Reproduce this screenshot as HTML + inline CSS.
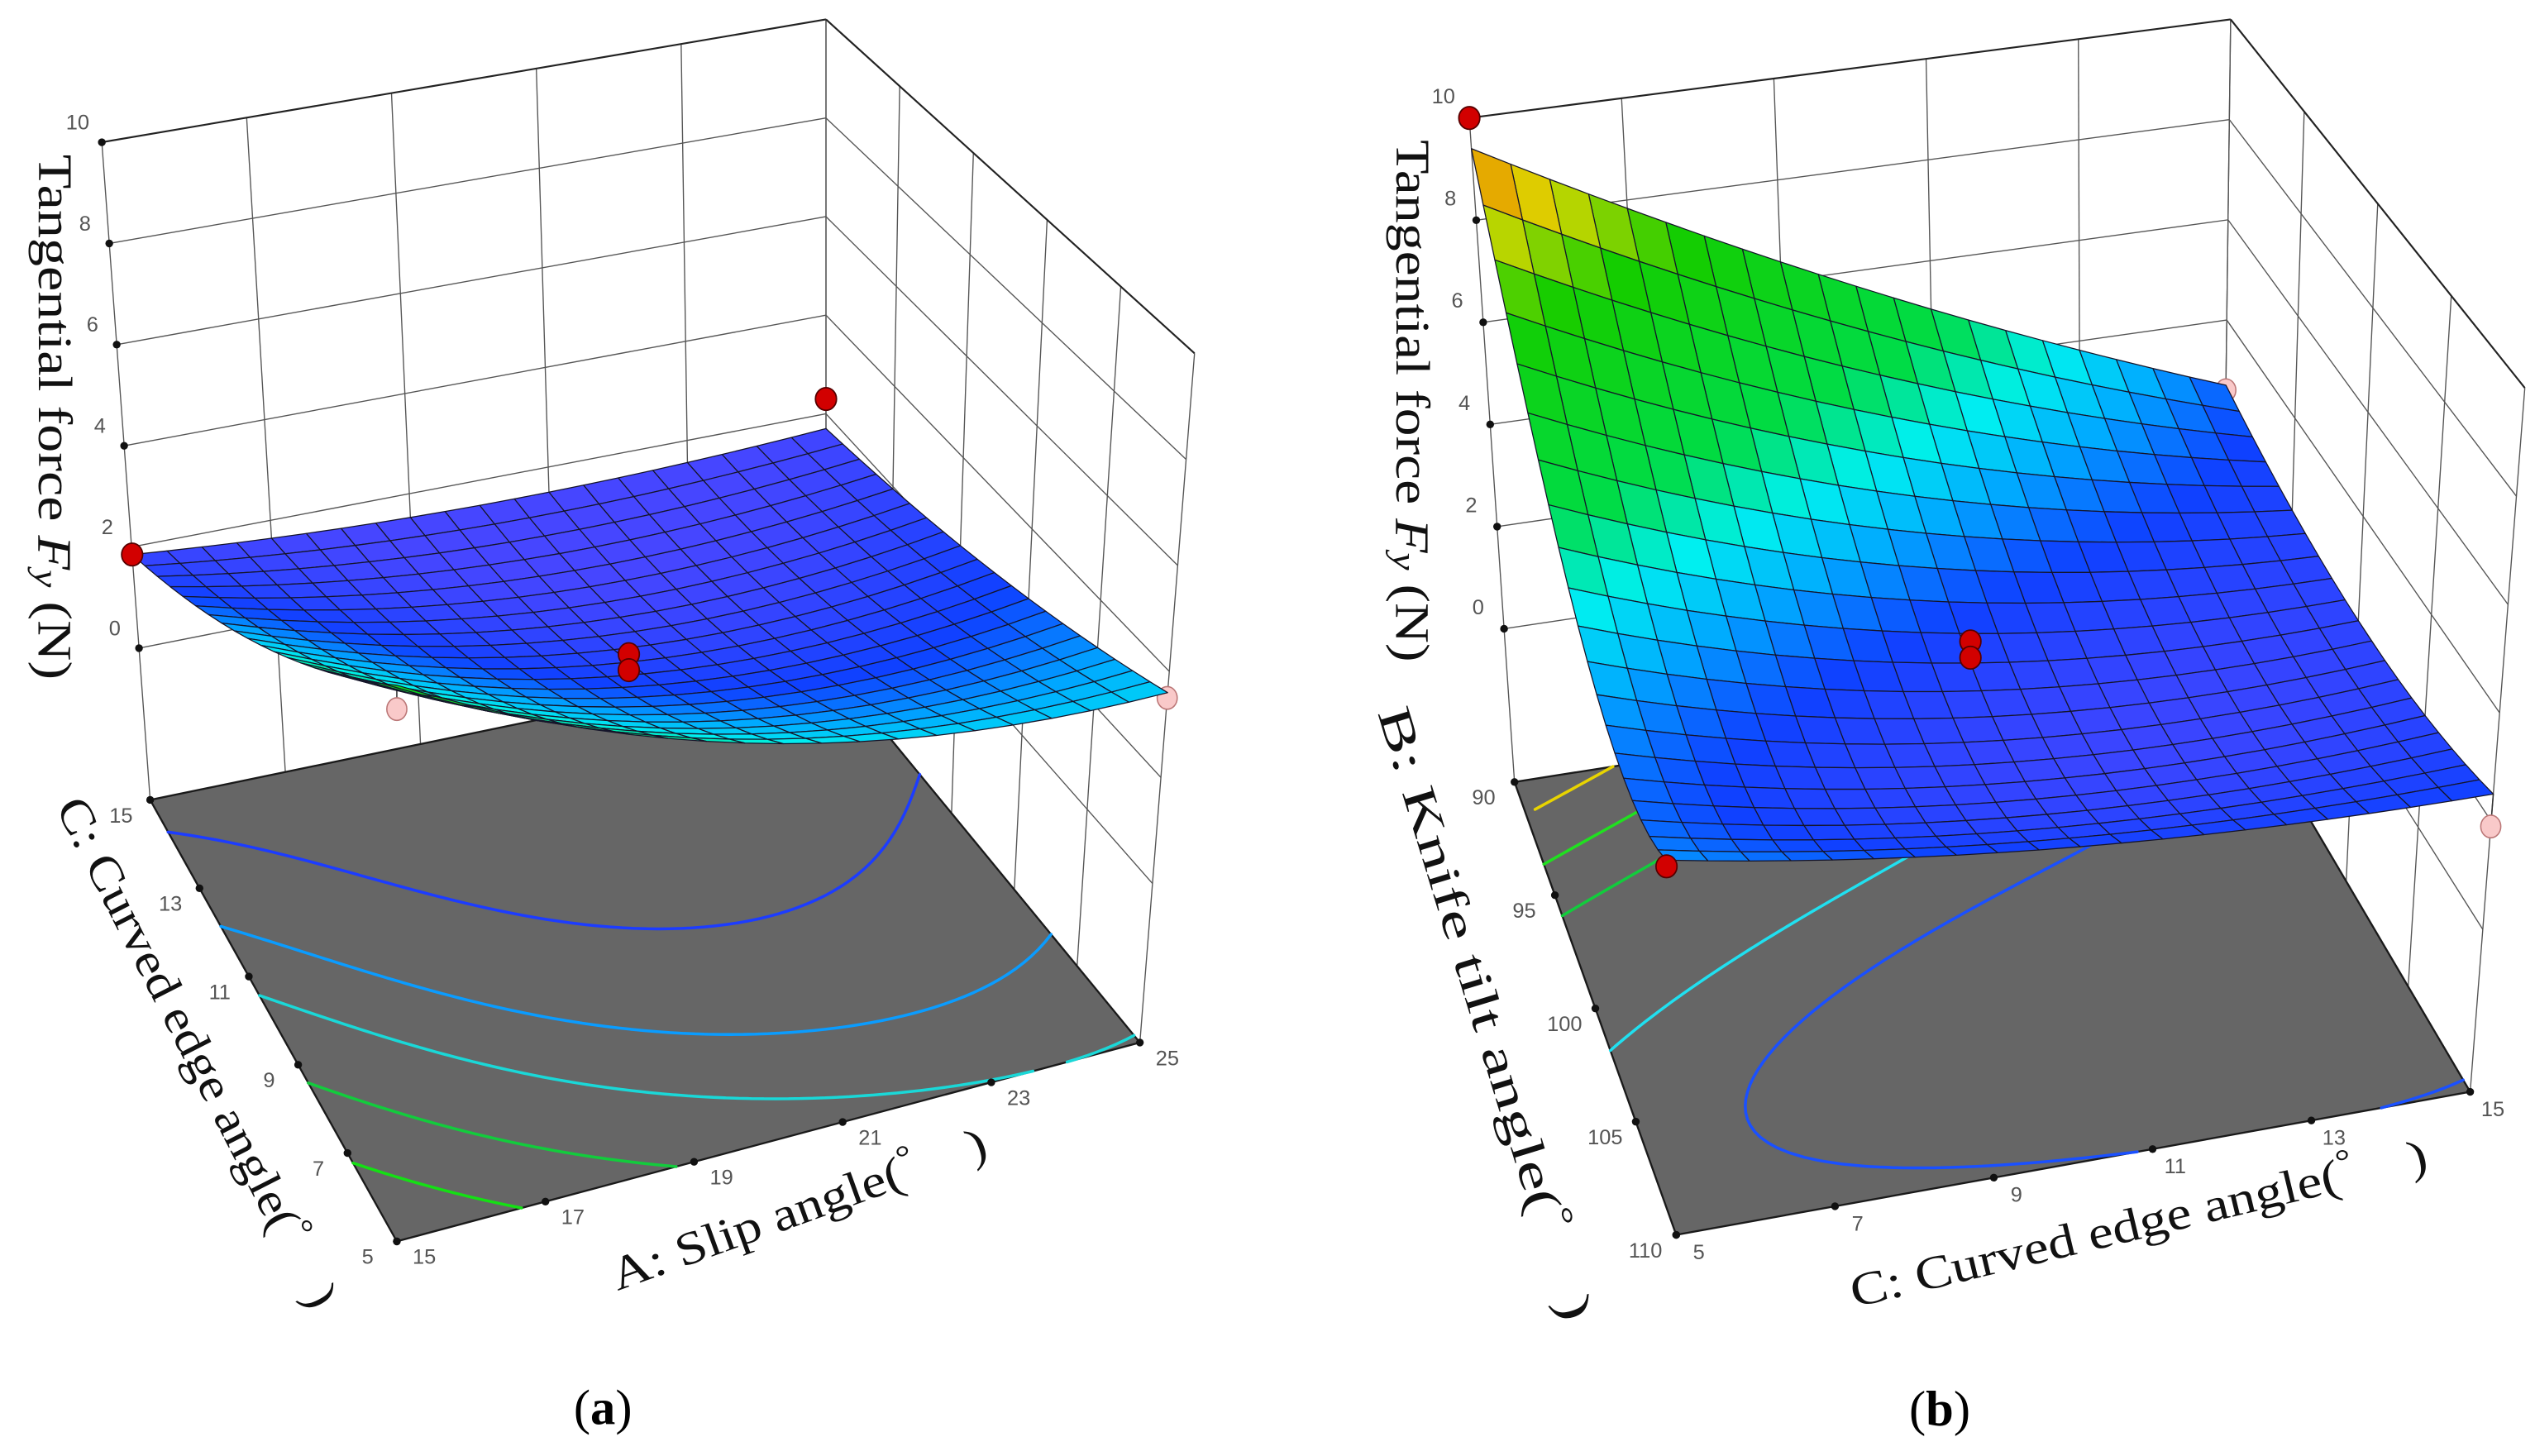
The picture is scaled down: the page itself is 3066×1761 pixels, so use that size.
<!DOCTYPE html>
<html>
<head>
<meta charset="utf-8">
<style>
  html,body{margin:0;padding:0;background:#ffffff;}
  svg{display:block;}
  text{font-family:"Liberation Sans",sans-serif;}
  .serif{font-family:"Liberation Serif",serif;}
</style>
</head>
<body>
<svg id="fig" xmlns="http://www.w3.org/2000/svg" width="3066" height="1761" viewBox="0 0 1568.3 900.8" preserveAspectRatio="none">
  <rect x="0" y="0" width="1568.3" height="900.8" fill="#ffffff"/>
  <g id="chartA"></g>
  <g id="chartB"></g>
  <text class="serif" x="373" y="881" font-size="31" text-anchor="middle" fill="#000">(<tspan font-weight="bold">a</tspan>)</text>
  <text class="serif" x="1200" y="882" font-size="31" text-anchor="middle" fill="#000">(<tspan font-weight="bold">b</tspan>)</text>
</svg>
<script>
// ---------------- DATA ----------------
// Chart (a): surface values Fy over A: Slip angle (15,20,25) x C: Curved edge angle (5,10,15)
const aSlipLevels = [15, 20, 25];
const aCurvedLevels = [5, 10, 15];
const surfA_C5  = [6.3, 4.06, 3.6];
const surfA_C10 = [3.8, 2.15, 2.45];
const surfA_C15 = [1.85, 1.5, 1.7];
const contourLevelsA = [2.1, 2.9, 3.55, 4.45, 5.35];
const contourColorsA = ["#1c3cff", "#0a9cff", "#1ad8d8", "#12cc3c", "#14e014"];
// design points (A, C, Fy, type)
const pointsA_A = [15, 25, 20, 20, 15, 25];
const pointsA_C = [15, 15, 10, 10, 5, 5];
const pointsA_F = [1.85, 2.3, 2.3, 2.0, 5.9, 3.5];
const pointsA_T = ["above", "above", "above", "above", "below", "below"];
const aZTicks = [0, 2, 4, 6, 8, 10];
const aSlipTicks = [15, 17, 19, 21, 23, 25];
const aCurvedTicks = [5, 7, 9, 11, 13, 15];

// Chart (b): surface values Fy over C: Curved edge angle (5,10,15) x B: Knife tilt angle (90,100,110)
const bCurvedLevels = [5, 10, 15];
const bTiltLevels = [90, 100, 110];
const surfB_B90  = [9.4, 5.7, 2.7];
const surfB_B100 = [3.8, 2.2, 2.0];
const surfB_B110 = [3.1, 2.48, 2.5];
const contourLevelsB = [2.44, 3.3, 5.5, 6.8, 8.3];
const contourColorsB = ["#1a50ff", "#20e0f0", "#12cc3c", "#20e020", "#e8d400"];
const pointsB_C = [5, 5, 10, 10, 15, 15];
const pointsB_B = [90, 110, 100, 100, 90, 110];
const pointsB_F = [10, 3.0, 2.6, 2.3, 2.6, 1.9];
const pointsB_T = ["above", "above", "above", "above", "below", "below"];
const bZTicks = [0, 2, 4, 6, 8, 10];
const bTiltTicks = [90, 95, 100, 105, 110];
const bCurvedTicks = [5, 7, 9, 11, 13, 15];

// colour map
const cmapVals = [1.6, 2.5, 3.2, 3.9, 4.8, 7.0, 8.3, 9.5];
const cmapCols = [[70,70,255],[15,65,255],[0,170,255],[0,240,240],[0,220,70],[20,205,0],[220,215,0],[240,110,0]];

// ---------------- HELPERS ----------------
const NS = "http://www.w3.org/2000/svg";
function mk(tag, attrs, parent){
  const el = document.createElementNS(NS, tag);
  for (const k in attrs) el.setAttribute(k, attrs[k]);
  parent.appendChild(el);
  return el;
}
function cmap(z){
  if (z <= cmapVals[0]) return "rgb(" + cmapCols[0].join(",") + ")";
  for (let i = 1; i < cmapVals.length; i++){
    if (z <= cmapVals[i]){
      const f = (z - cmapVals[i-1]) / (cmapVals[i] - cmapVals[i-1]);
      const a = cmapCols[i-1], b = cmapCols[i];
      return "rgb(" + [0,1,2].map(k => Math.round(a[k] + (b[k]-a[k])*f)).join(",") + ")";
    }
  }
  return "rgb(" + cmapCols[cmapCols.length-1].join(",") + ")";
}
function lag(t){ return [t*(t-1)/2, 1 - t*t, t*(t+1)/2]; }
function evalGrid(grid, u, v){
  const Lt = lag(2*u - 1), Ls = lag(2*v - 1);
  let s = 0;
  for (let r = 0; r < 3; r++) for (let c = 0; c < 3; c++) s += grid[r][c] * Ls[r] * Lt[c];
  return s;
}
function proj(cfg, u, v, z){
  const w = [(1-u)*(1-v), u*(1-v), (1-u)*v, u*v];
  let x = 0, y = 0;
  for (let k = 0; k < 4; k++){
    const c = cfg.c[k];
    x += w[k] * (c[0] + c[2]*z);
    y += w[k] * (c[1] + c[3]*z);
  }
  return [x, y];
}
function pstr(p){ return p[0].toFixed(2) + "," + p[1].toFixed(2); }

function drawChart(cfg){
  const g = cfg.g;
  const zf = cfg.zFloor, zt = cfg.zTop;
  const norm = cfg.norm;

  // ---- walls ----
  const walls = mk("g", {}, g);
  
  
  cfg.walls.forEach(w => {
    for (let k = 0; k <= w.n; k++){
      const s = k / w.n;
      const uu = w.fixed === "u" ? w.val : s;
      const vv = w.fixed === "v" ? w.val : s;
      const a = proj(cfg, uu, vv, zf), b = proj(cfg, uu, vv, zt);
      const ln = mk("line", {x1:a[0], y1:a[1], x2:b[0], y2:b[1], stroke:"#555", "stroke-width":0.7}, walls);
      
      
    }
    cfg.zTicks.forEach(z => {
      const a = w.fixed === "u" ? proj(cfg, w.val, 0, z) : proj(cfg, 0, w.val, z);
      const b = w.fixed === "u" ? proj(cfg, w.val, 1, z) : proj(cfg, 1, w.val, z);
      const ln = mk("line", {x1:a[0], y1:a[1], x2:b[0], y2:b[1], stroke: z === zt ? "#222" : "#555", "stroke-width": z === zt ? 1.1 : 0.7}, walls);
      
      
    });
  });

  // ---- z axis ticks ----
  const zax = mk("g", {}, g);
  
  
  cfg.zTicks.forEach(z => {
    const p = proj(cfg, cfg.zAxisUV[0], cfg.zAxisUV[1], z);
    const d = mk("circle", {cx:p[0], cy:p[1], r:2.4, fill:"#111"}, zax);
    
    
    const t = mk("text", {x:p[0]+cfg.zLabOff[0], y:p[1]+cfg.zLabOff[1], "font-size":13, fill:"#555", "text-anchor":"middle"}, zax);
    t.textContent = String(z);
    
    
  });

  // ---- floor ----
  const f00 = proj(cfg,0,0,zf), f10 = proj(cfg,1,0,zf), f11 = proj(cfg,1,1,zf), f01 = proj(cfg,0,1,zf);
  const floor = mk("polygon", {points:[f00,f10,f11,f01].map(pstr).join(" "), fill:"#666666", stroke:"#1a1a1a", "stroke-width":1.2}, g);
  
  

  // ---- contours (marching squares) ----
  const N = 70;
  const vals = [];
  for (let i = 0; i <= N; i++){ vals.push([]); for (let j = 0; j <= N; j++) vals[i].push(evalGrid(cfg.grid, i/N, j/N)); }
  cfg.levels.forEach((L, li) => {
    let d = "";
    for (let i = 0; i < N; i++) for (let j = 0; j < N; j++){
      const cs = [[i,j],[i+1,j],[i+1,j+1],[i,j+1]];
      const pts = [];
      for (let e = 0; e < 4; e++){
        const A = cs[e], B = cs[(e+1)%4];
        const va = vals[A[0]][A[1]], vb = vals[B[0]][B[1]];
        if ((va - L) * (vb - L) < 0){
          const f = (L - va) / (vb - va);
          const uu = (A[0] + (B[0]-A[0])*f) / N, vv = (A[1] + (B[1]-A[1])*f) / N;
          pts.push(proj(cfg, uu, vv, zf));
        }
      }
      for (let k = 0; k + 1 < pts.length; k += 2) d += "M" + pstr(pts[k]) + "L" + pstr(pts[k+1]);
    }
    const pth = mk("path", {d:d, stroke:cfg.levelColors[li], "stroke-width":1.8, fill:"none", "stroke-linecap":"round"}, g);
    
    
  });

  // ---- floor axes ticks ----
  cfg.floorAxes.forEach(ax => {
    const ag = mk("g", {}, g);
    
    
    ax.ticks.forEach(tv => {
      const uv = ax.uv(tv);
      const p = proj(cfg, uv[0], uv[1], zf);
      const d = mk("circle", {cx:p[0], cy:p[1], r:2.4, fill:"#111"}, ag);
      
      
      const t = mk("text", {x:p[0]+ax.off[0], y:p[1]+ax.off[1], "font-size":13, fill:"#555", "text-anchor":"middle"}, ag);
      t.textContent = String(tv);
      
      
    });
  });

  // ---- design points below surface ----
  const ptsG = cfg.points;
  ptsG.forEach(pt => {
    if (pt.t !== "below") return;
    const uv = norm(pt.x, pt.y);
    const p = proj(cfg, uv[0], uv[1], pt.z);
    const s = proj(cfg, uv[0], uv[1], evalGrid(cfg.grid, uv[0], uv[1]));
    const ln = mk("line", {x1:p[0], y1:p[1], x2:s[0], y2:s[1], stroke:"#333", "stroke-width":0.8}, g);
    
    
    const c = mk("ellipse", {cx:p[0], cy:p[1], rx:6.2, ry:7, fill:"#f9c9c9", stroke:"#b77", "stroke-width":0.8}, g);
    
    
  });

  // ---- surface ----
  const sg = mk("g", {}, g);
  
  
  const M = 20;
  const cells = [];
  for (let i = 0; i < M; i++) for (let j = 0; j < M; j++){
    const us = [i/M, (i+1)/M], vs = [j/M, (j+1)/M];
    const cz = [[us[0],vs[0]],[us[1],vs[0]],[us[1],vs[1]],[us[0],vs[1]]].map(q => [q[0], q[1], evalGrid(cfg.grid, q[0], q[1])]);
    const zc = (cz[0][2]+cz[1][2]+cz[2][2]+cz[3][2]) / 4;
    const cu = (us[0]+us[1])/2, cv = (vs[0]+vs[1])/2;
    cells.push({cz:cz, zc:zc, key:cfg.depth(cu, cv)});
  }
  cells.sort((a,b) => b.key - a.key);
  cells.forEach(cl => {
    const pts = cl.cz.map(q => pstr(proj(cfg, q[0], q[1], q[2]))).join(" ");
    const poly = mk("polygon", {points:pts, fill:cmap(cl.zc), stroke:"#15152a", "stroke-width":0.65, "stroke-linejoin":"round"}, sg);
    
    
  });

  // ---- design points above ----
  ptsG.forEach(pt => {
    if (pt.t !== "above") return;
    const uv = norm(pt.x, pt.y);
    const p = proj(cfg, uv[0], uv[1], pt.z);
    const c = mk("ellipse", {cx:p[0], cy:p[1], rx:6.5, ry:7, fill:"#d20000", stroke:"#500", "stroke-width":0.9}, g);
    
    
  });

  // ---- titles ----
  cfg.titles.forEach(tt => {
    const t = mk("text", {x:0, y:0, "font-size":tt.fs, fill:"#111", "text-anchor":"middle", "dominant-baseline":"central",
      transform:"translate(" + tt.cx + "," + tt.cy + ") rotate(" + tt.ang + ")", textLength:tt.len, lengthAdjust:"spacingAndGlyphs", "class":"serif"}, g);
    
    
    if (tt.fy){
      t.appendChild(document.createTextNode("Tangential force "));
      const ts = mk("tspan", {"font-style":"italic"}, t); ts.textContent = "F";
      const sub = mk("tspan", {"font-style":"italic", "font-size":tt.fs*0.7, dy:5}, t); sub.textContent = "y";
      const rest = mk("tspan", {dy:-5}, t); rest.textContent = " (N)";
    } else {
      t.appendChild(document.createTextNode(tt.pre));
      const deg = mk("tspan", {"font-size":tt.fs*0.7, dy:-8}, t); deg.textContent = "°";
      const rest = mk("tspan", {dy:8}, t); rest.textContent = "\u2002\u2002)";
    }
  });
}

// ---------------- CHART A ----------------
drawChart({
  g: document.getElementById("chartA"),
  c: [[245.5,657,0,-37],[713,546.6,2.6,-32.8],[86,401,-2.3,-31.3],[511,317,0,-30.5]],
  zFloor: -3, zTop: 10,
  zTicks: aZTicks,
  zAxisUV: [0,1],
  zLabOff: [-15,-8],
  grid: [surfA_C5, surfA_C10, surfA_C15],
  levels: contourLevelsA, levelColors: contourColorsA,
  norm: (a, c) => [(a - aSlipLevels[0]) / (aSlipLevels[2] - aSlipLevels[0]), (c - aCurvedLevels[0]) / (aCurvedLevels[2] - aCurvedLevels[0])],
  depth: (u, v) => u + v,
  walls: [{fixed:"v", val:1, n:5}, {fixed:"u", val:1, n:5}],
  floorAxes: [
    {name:"c-axis", ticks:aCurvedTicks, uv: t => [0, (t-5)/10], off:[-18,14]},
    {name:"a-axis", ticks:aSlipTicks, uv: t => [(t-15)/10, 0], off:[17,14]}
  ],
  points: pointsA_A.map((x,i) => ({x:x, y:pointsA_C[i], z:pointsA_F[i], t:pointsA_T[i]})),
  titles: [
    {name:"z-axis-title", fy:true, cx:34, cy:258, ang:90, fs:30, len:325},
    {name:"c-axis-title", pre:"C: Curved edge angle(", cx:122, cy:651, ang:63, fs:29, len:350},
    {name:"a-axis-title", pre:"A: Slip angle(", cx:494, cy:748, ang:-19.9, fs:29, len:245}
  ]
});

// ---------------- CHART B ----------------
drawChart({
  g: document.getElementById("chartB"),
  c: [[930.5,389,-2.15,-31.6],[1376,322,0.4,-31],[1034,650,-1,-38],[1536,575,2.6,-33.5]],
  zFloor: -3, zTop: 10,
  zTicks: bZTicks,
  zAxisUV: [0,0],
  zLabOff: [-16,-9],
  grid: [surfB_B90, surfB_B100, surfB_B110],
  levels: contourLevelsB, levelColors: contourColorsB,
  norm: (c, b) => [(c - bCurvedLevels[0]) / (bCurvedLevels[2] - bCurvedLevels[0]), (b - bTiltLevels[0]) / (bTiltLevels[2] - bTiltLevels[0])],
  depth: (u, v) => u - v,
  walls: [{fixed:"v", val:0, n:5}, {fixed:"u", val:1, n:4}],
  floorAxes: [
    {name:"b-axis", ticks:bTiltTicks, uv: t => [0, (t-90)/20], off:[-19,14]},
    {name:"c-axis", ticks:bCurvedTicks, uv: t => [(t-5)/10, 1], off:[14,15]}
  ],
  points: pointsB_C.map((x,i) => ({x:x, y:pointsB_B[i], z:pointsB_F[i], t:pointsB_T[i]})),
  titles: [
    {name:"z-axis-title", fy:true, cx:874, cy:248, ang:90, fs:30, len:323},
    {name:"b-axis-title", pre:"B: Knife tilt angle(", cx:919, cy:627, ang:73, fs:29, len:395},
    {name:"c-axis-title", pre:"C: Curved edge angle(", cx:1323, cy:757, ang:-13.5, fs:29, len:366}
  ]
});
</script>
</body>
</html>
